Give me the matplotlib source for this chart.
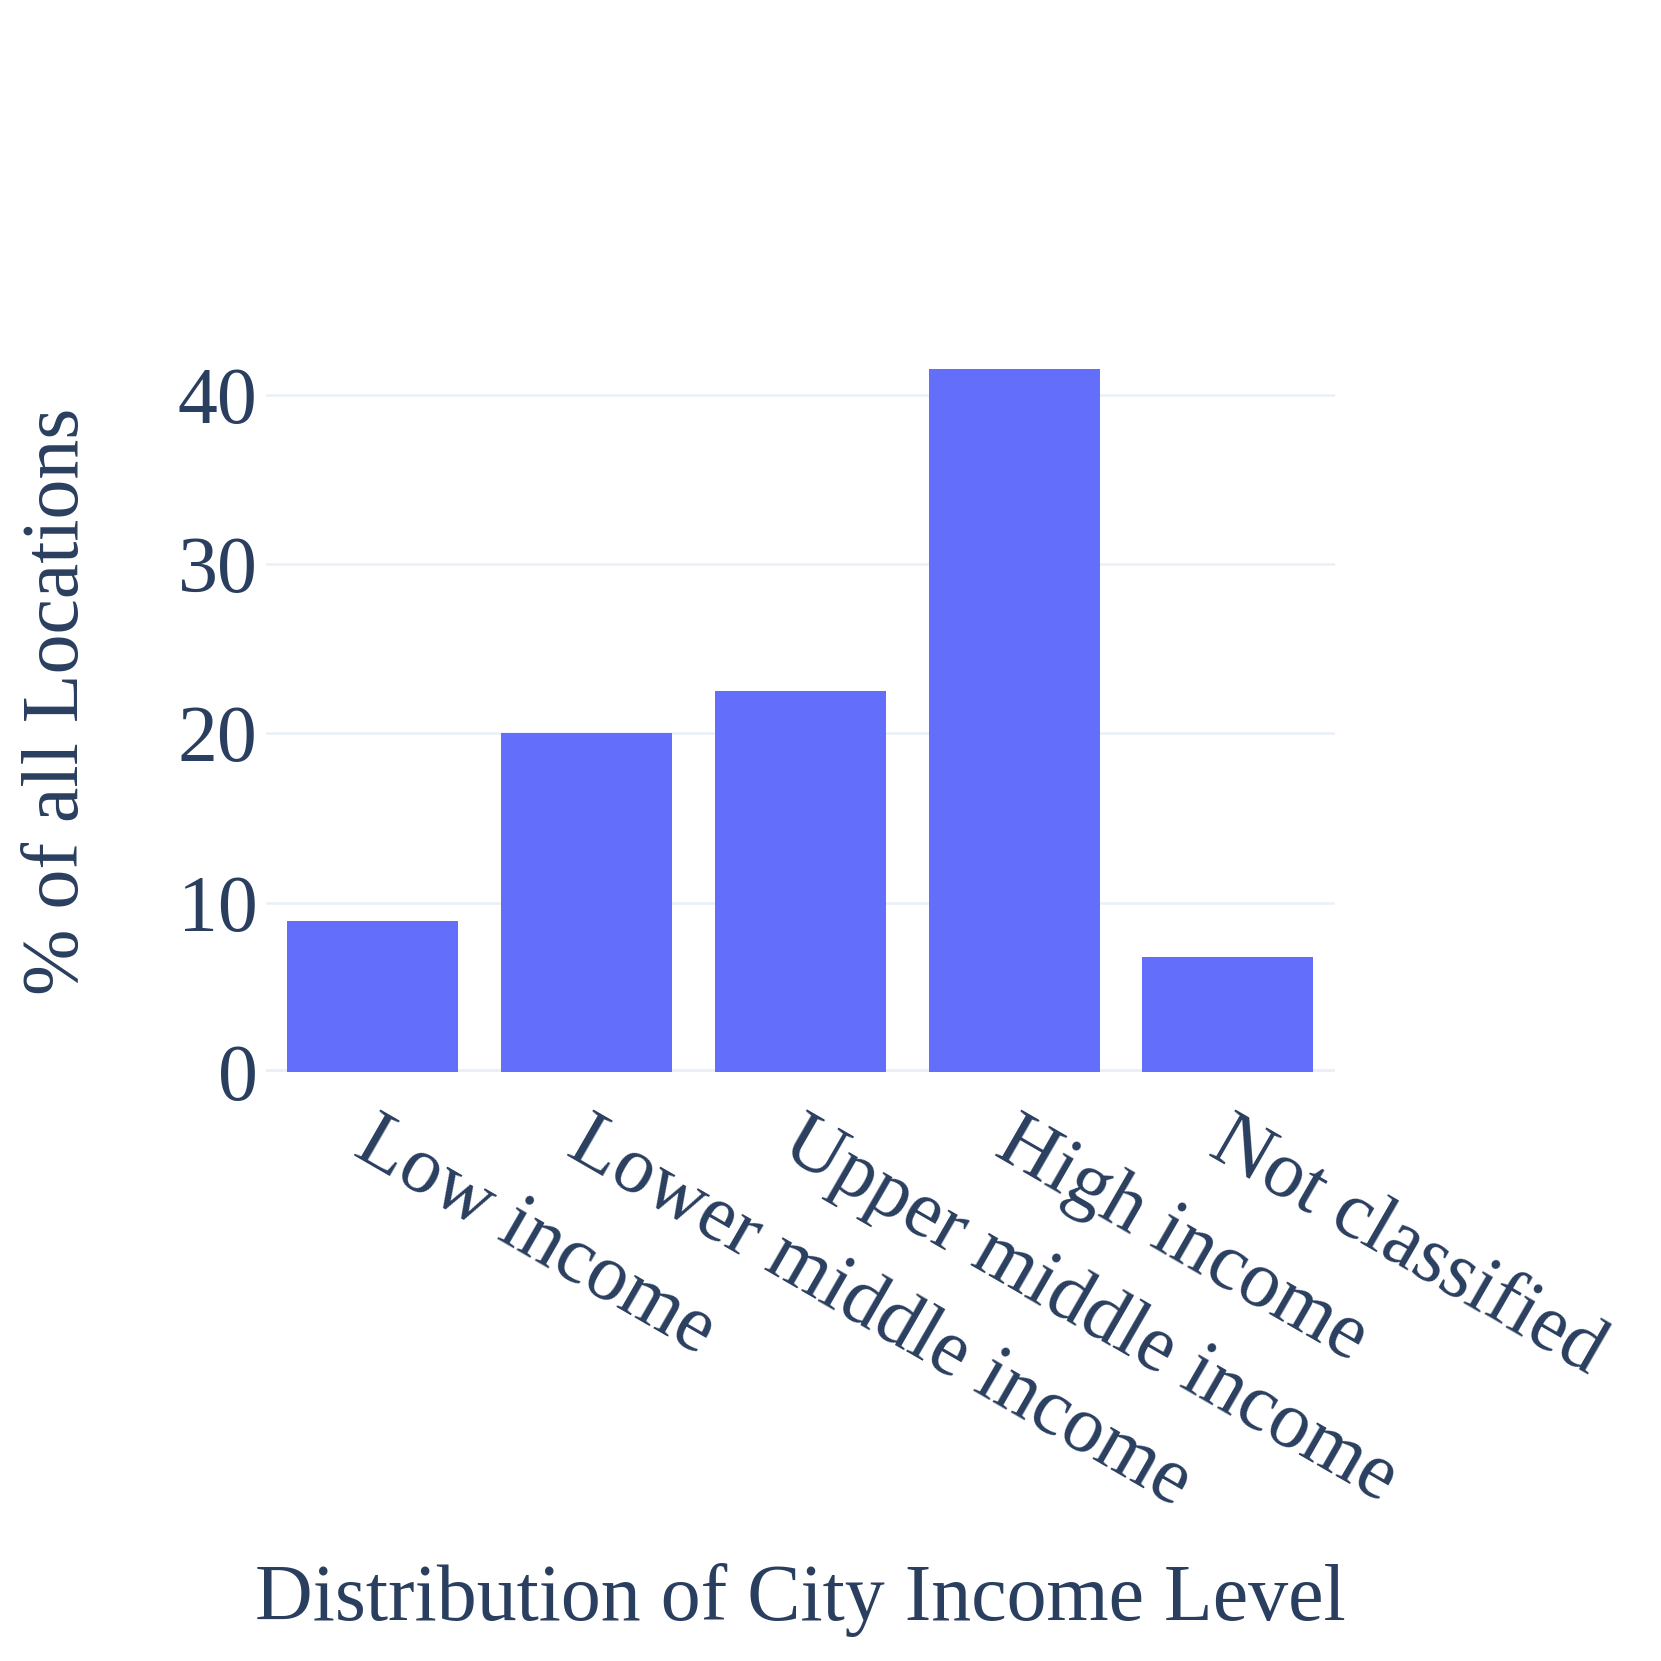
import matplotlib
matplotlib.use("Agg")
import matplotlib.pyplot as plt

categories = ["Low income", "Lower middle income", "Upper middle income", "High income", "Not classified"]
values = [8.92, 20.0, 22.48, 41.52, 6.82]
yticks = [0, 10, 20, 30, 40]

TEXT = "#2a3f5f"
BAR = "#636efa"
GRID = "#ebf0f8"
FONT = "Liberation Serif"
FS = 57.5

fig = plt.figure(figsize=(16.61, 16.61), dpi=100)
ax = fig.add_axes([0.1601, 0.3546, 0.6435, 0.4458])
x = list(range(len(categories)))
ax.bar(x, values, width=0.8, color=BAR, zorder=3)
ax.set_xlim(-0.5, len(categories) - 0.5)
ax.set_ylim(0, max(values) * 1.053)
ax.set_yticks(yticks)
ax.set_yticklabels([str(t) for t in yticks], fontsize=FS, family=FONT, color=TEXT)
for t in yticks[1:]:
    ax.axhline(t, color=GRID, lw=1.9, zorder=1)
ax.axhline(0, color=GRID, lw=5.0, zorder=2)
for s in ax.spines.values():
    s.set_visible(False)
ax.tick_params(axis="y", length=0, pad=6)
ax.tick_params(axis="x", length=0)
ax.set_xticks(x)
ax.set_xticklabels([])
for xi, lab in zip(x, categories):
    ax.text(xi + 0.03, -0.045, lab, transform=ax.get_xaxis_transform(), rotation=-30,
            rotation_mode="anchor", ha="left", va="top", fontsize=FS, family=FONT, color=TEXT)

fig.text(0.482, 0.0245, "Distribution of City Income Level", ha="center", va="baseline",
         fontsize=FS, family=FONT, color=TEXT)
fig.text(0.035, 1 - 662 / 1568, "% of all Locations", ha="center", va="center", rotation=90,
         fontsize=FS, family=FONT, color=TEXT)

fig.savefig("out.png", dpi=100, facecolor="white")
